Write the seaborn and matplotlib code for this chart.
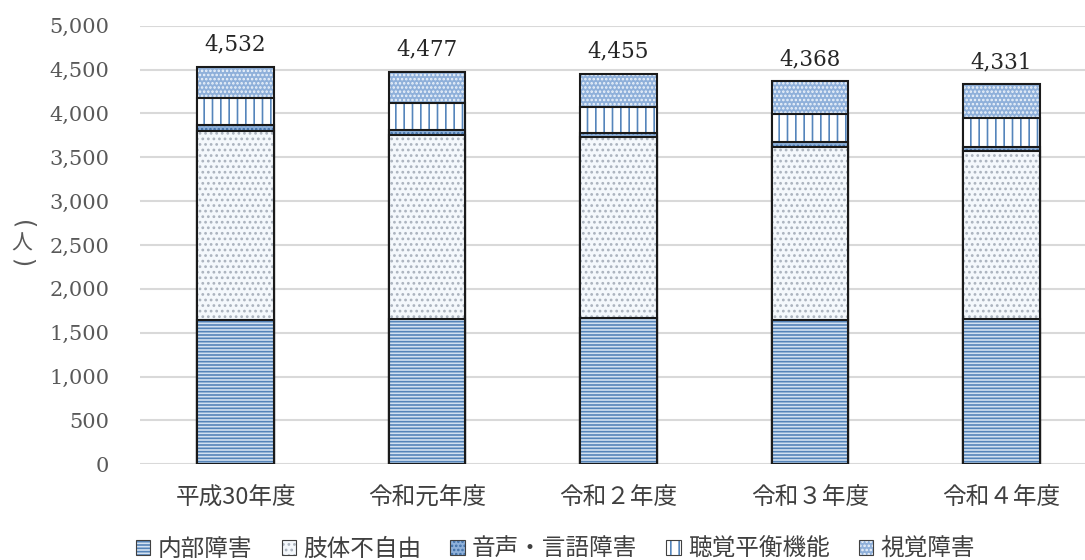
import matplotlib
matplotlib.use('Agg')
import matplotlib.pyplot as plt
import matplotlib.colors as mcolors
from matplotlib.patches import Patch
from matplotlib.ticker import FuncFormatter, MultipleLocator
import seaborn as sns
import pandas as pd

years = ['平成30年度', '令和元年度', '令和２年度', '令和３年度', '令和４年度']
series_names = ['内部障害', '肢体不自由', '音声・言語障害', '聴覚平衡機能', '視覚障害']
internal = [1645, 1660, 1670, 1640, 1660]
limb = [2155, 2090, 2058, 1981, 1912]
speech = [65, 58, 52, 50, 49]
hearing = [307, 307, 293, 319, 323]
visual = [360, 362, 382, 378, 387]
totals = [4532, 4477, 4455, 4368, 4331]

layers = [internal, limb, speech, hearing, visual]
# (face, hatch, hatch colour)
styles = [
    ('#d3e1f1', '-----', '#5584b9'),
    ('#f4f8fc', '...', '#abb3be'),
    ('#8fb1da', '....', '#3f6ea6'),
    ('#ffffff', '||', '#5585bb'),
    ('#8fb0da', '....', '#eef4fb'),
]

sns.set_style('white')
plt.rcParams['font.family'] = ['Noto Sans CJK JP', 'DejaVu Sans']
plt.rcParams['hatch.linewidth'] = 1.2

fig = plt.figure(figsize=(10.85, 5.6), dpi=100)
ax = fig.add_axes([0.129, 0.171, 0.882, 0.783])

# cumulative sums
cums = []
run = [0] * len(years)
for lay in layers:
    run = [a + b for a, b in zip(run, lay)]
    cums.append(list(run))

for i in range(len(layers) - 1, -1, -1):
    face, hatch, hcol = styles[i]
    df = pd.DataFrame({'year': years, 'value': cums[i]})
    sns.barplot(data=df, x='year', y='value', order=years, color=face,
                saturation=1, width=0.40, ax=ax, errorbar=None, zorder=3)
    for p in ax.containers[-1]:
        p.set_facecolor(face)
        p.set_edgecolor('#1a1a1a')
        p.set_linewidth(1.5)
        p.set_hatch(hatch)
        p._hatch_color = mcolors.to_rgba(hcol)
        p.stale = True

ax.set_ylim(0, 5000)
ax.yaxis.set_major_locator(MultipleLocator(500))
ax.yaxis.set_major_formatter(FuncFormatter(lambda v, _: f'{int(v):,}'))
ax.grid(axis='y', color='#d9d9d9', linewidth=1.5, zorder=0)
ax.set_axisbelow(True)
for s in ax.spines.values():
    s.set_visible(False)
ax.set_xlabel('')
ax.set_ylabel('')
ax.tick_params(axis='y', length=0, pad=22, labelsize=15, labelcolor='#595959')
ax.tick_params(axis='x', length=0, pad=16, labelsize=17, labelcolor='#404040')
for lab in ax.get_yticklabels():
    lab.set_fontfamily('DejaVu Serif')

for xi, t in enumerate(totals):
    ax.annotate(f'{t:,}', xy=(xi, t), xytext=(0, 8), textcoords='offset points',
                ha='center', va='bottom', fontsize=15.5, color='#262626',
                fontfamily='DejaVu Serif')

# vertical axis unit label （人）
xl = 22 / 1085
fig.text(xl, 1 - 225 / 560, '(', rotation=-90, ha='center', va='center',
         fontsize=17, color='#595959', fontfamily='DejaVu Sans')
fig.text(xl, 1 - 244 / 560, '人', ha='center', va='center', fontsize=15,
         color='#595959')
fig.text(xl, 1 - 263 / 560, ')', rotation=-90, ha='center', va='center',
         fontsize=17, color='#595959', fontfamily='DejaVu Sans')

handles = []
for (face, hatch, hcol), name in zip(styles, series_names):
    h = Patch(facecolor=face, edgecolor='#404040', hatch=hatch, linewidth=0.8, label=name)
    h._hatch_color = mcolors.to_rgba(hcol)
    handles.append(h)
fig.legend(handles=handles, loc='lower center', bbox_to_anchor=(0.512, -0.04), ncol=5,
           frameon=False, fontsize=17, handlelength=0.6, handleheight=0.6,
           handletextpad=0.3, columnspacing=1.25, labelcolor='#404040')

fig.savefig('out.png', dpi=100)
